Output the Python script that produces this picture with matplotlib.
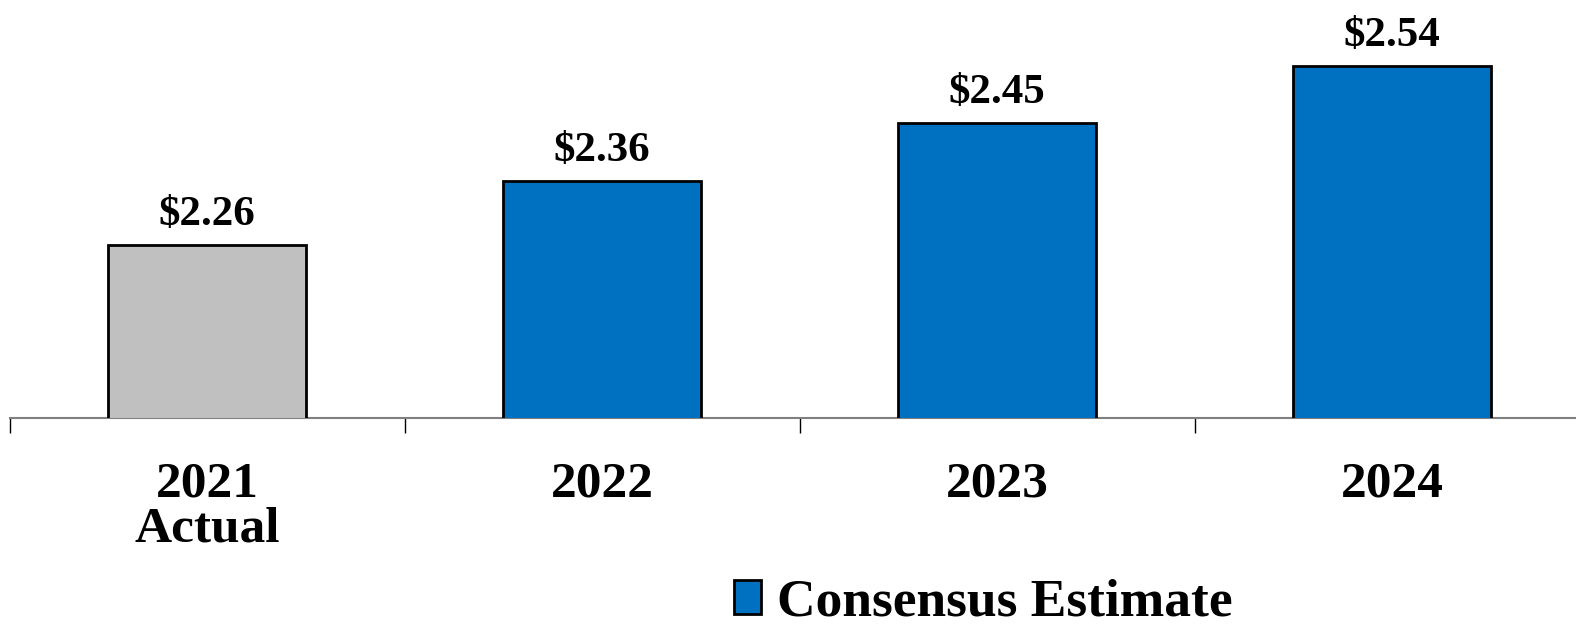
import matplotlib
matplotlib.use("Agg")
import matplotlib.pyplot as plt

plt.rcParams['font.family'] = ['Liberation Serif', 'DejaVu Serif']
plt.rcParams['font.weight'] = 'bold'

years = ["2021\nActual", "2022", "2023", "2024"]
eps = [2.26, 2.36, 2.45, 2.54]
bar_colors = ["#c0c0c0", "#0070c0", "#0070c0", "#0070c0"]
legend_label = "Consensus Estimate"

W, H = 1576, 625
fig = plt.figure(figsize=(W / 100, H / 100), dpi=100)
# axis spans past the right edge so the last category boundary falls off-page
ax = fig.add_axes([9.5 / W, 1 - 417.5 / H, 1580 / W, 417.5 / H])

x = range(len(eps))
bars = ax.bar(x, eps, width=0.5, color=bar_colors, edgecolor="black",
              linewidth=2, zorder=3)

for xi, v in zip(x, eps):
    ax.annotate(f"${v:.2f}", (xi, v), xytext=(0, 14.5), textcoords="offset points",
                ha="center", va="baseline", fontsize=31, fontweight="bold")

ax.set_xlim(-0.5, 3.5)
ax.set_ylim(1.9905, 2.6428)

for side in ("top", "right", "left"):
    ax.spines[side].set_visible(False)
ax.spines["bottom"].set_color("#808080")
ax.spines["bottom"].set_linewidth(1.5)
ax.set_yticks([])

ax.set_xticks(list(x))
ax.set_xticklabels(years, fontsize=37, fontweight="bold", linespacing=0.95)
ax.tick_params(axis="x", which="major", length=0, pad=32)
ax.set_xticks([-0.5, 0.5, 1.5, 2.5, 3.5], minor=True)
ax.tick_params(axis="x", which="minor", length=11, width=1, color="black")

fig.legend(handles=[bars[1]], labels=[legend_label], loc="center",
           bbox_to_anchor=(983 / W, 1 - 603 / H), frameon=False,
           fontsize=38.5, handlelength=0.5, handleheight=0.6,
           handletextpad=0.3, borderpad=0)

fig.savefig("out.png", dpi=100)
